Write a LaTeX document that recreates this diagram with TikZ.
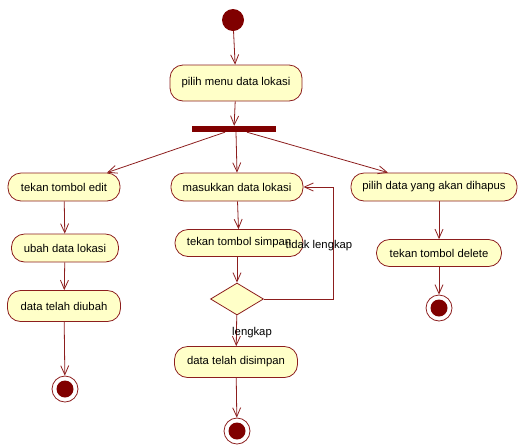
\documentclass[tikz,border=0pt]{standalone}
\usepackage{fontspec}
\setmainfont{Liberation Sans}
\usetikzlibrary{arrows.meta,shapes.geometric}
\definecolor{lineC}{RGB}{140,30,30}
\definecolor{dotC}{RGB}{128,0,0}
\definecolor{actC}{RGB}{255,255,200}

\begin{document}
\begin{tikzpicture}[x=1pt,y=-1pt,
    font=\fontsize{11.3}{13}\selectfont,
    flow/.style={-{Straight Barb[length=9pt,width=8pt]},draw=lineC,line width=0.8pt},
    act/.style={rectangle,rounded corners=13pt,draw=lineC,fill=actC,
      line width=0.8pt,inner sep=2pt},
    startnode/.style={circle,fill=dotC,minimum size=22pt,inner sep=0pt},
    endnode/.style={circle,draw=lineC,fill=white,line width=0.8pt,
      minimum size=26pt,inner sep=0pt,
      path picture={\fill[dotC] (path picture bounding box.center) circle (8.5pt);}},
    choice/.style={diamond,draw=lineC,fill=actC,line width=0.8pt,
      minimum width=53pt,minimum height=32pt,inner sep=0pt}]
  \useasboundingbox (0,0) rectangle (518,445);

  \node[startnode] (start) at (233,20) {};
  \node[act,minimum width=132pt,minimum height=36pt] (menu) at (236,83) {pilih menu data lokasi};
  \node[fill=dotC,minimum width=84pt,minimum height=6pt,inner sep=0pt] (fork) at (234,129) {};

  % kolom kiri
  \node[act,minimum width=112pt,minimum height=28pt] (edit) at (64,187) {tekan tombol edit};
  \node[act,minimum width=107pt,minimum height=28pt] (ubah) at (65,248) {ubah data lokasi};
  \node[act,minimum width=113pt,minimum height=31pt] (diubah) at (64,306) {data telah diubah};
  \node[endnode] (endA) at (65,389) {};

  % kolom tengah
  \node[act,minimum width=132pt,minimum height=28pt] (masuk) at (237,187) {masukkan data lokasi};
  \node[act,minimum width=128pt,minimum height=27pt] (simpan) at (239,243) {tekan tombol simpan};
  \node[choice] (cek) at (237,299) {};
  \node[act,minimum width=123pt,minimum height=31pt] (disimpan) at (236,362) {data telah disimpan};
  \node[endnode] (endB) at (237,431) {};
  \coordinate (loop) at (333,299);

  % kolom kanan
  \node[act,minimum width=166pt,minimum height=28pt] (pilih) at (434,187) {pilih data yang akan dihapus};
  \node[act,minimum width=125pt,minimum height=27pt] (hapus) at (439,253) {tekan tombol delete};
  \node[endnode] (endC) at (439,308) {};

  \draw[flow] (start) -- (menu);
  \draw[flow] (menu) -- (fork);
  \draw[flow] ([xshift=-9pt]fork.south) -- ([xshift=43pt]edit.north);
  \draw[flow] ([xshift=2pt]fork.south) -- (masuk.north);
  \draw[flow] ([xshift=13pt]fork.south) -- ([xshift=-46pt]pilih.north);

  \draw[flow] (edit) -- (ubah);
  \draw[flow] (ubah) -- (diubah);
  \draw[flow] (diubah) -- (endA);

  \draw[flow] (masuk) -- (simpan);
  \draw[flow] (simpan.south -| cek.north) -- (cek.north);
  \draw[flow] (cek) -- (disimpan);
  \draw[flow] (disimpan) -- (endB);
  \draw[flow] (cek.east) -- (loop) |- (masuk.east);
  \node[inner sep=0pt] (lbltidak) at (319,246) {tidak lengkap};
  \node[inner sep=0pt] (lbllengkap) at (252,333) {lengkap};

  \draw[flow] (pilih.south -| hapus.north) -- (hapus.north);
  \draw[flow] (hapus) -- (endC);
\end{tikzpicture}
\end{document}
